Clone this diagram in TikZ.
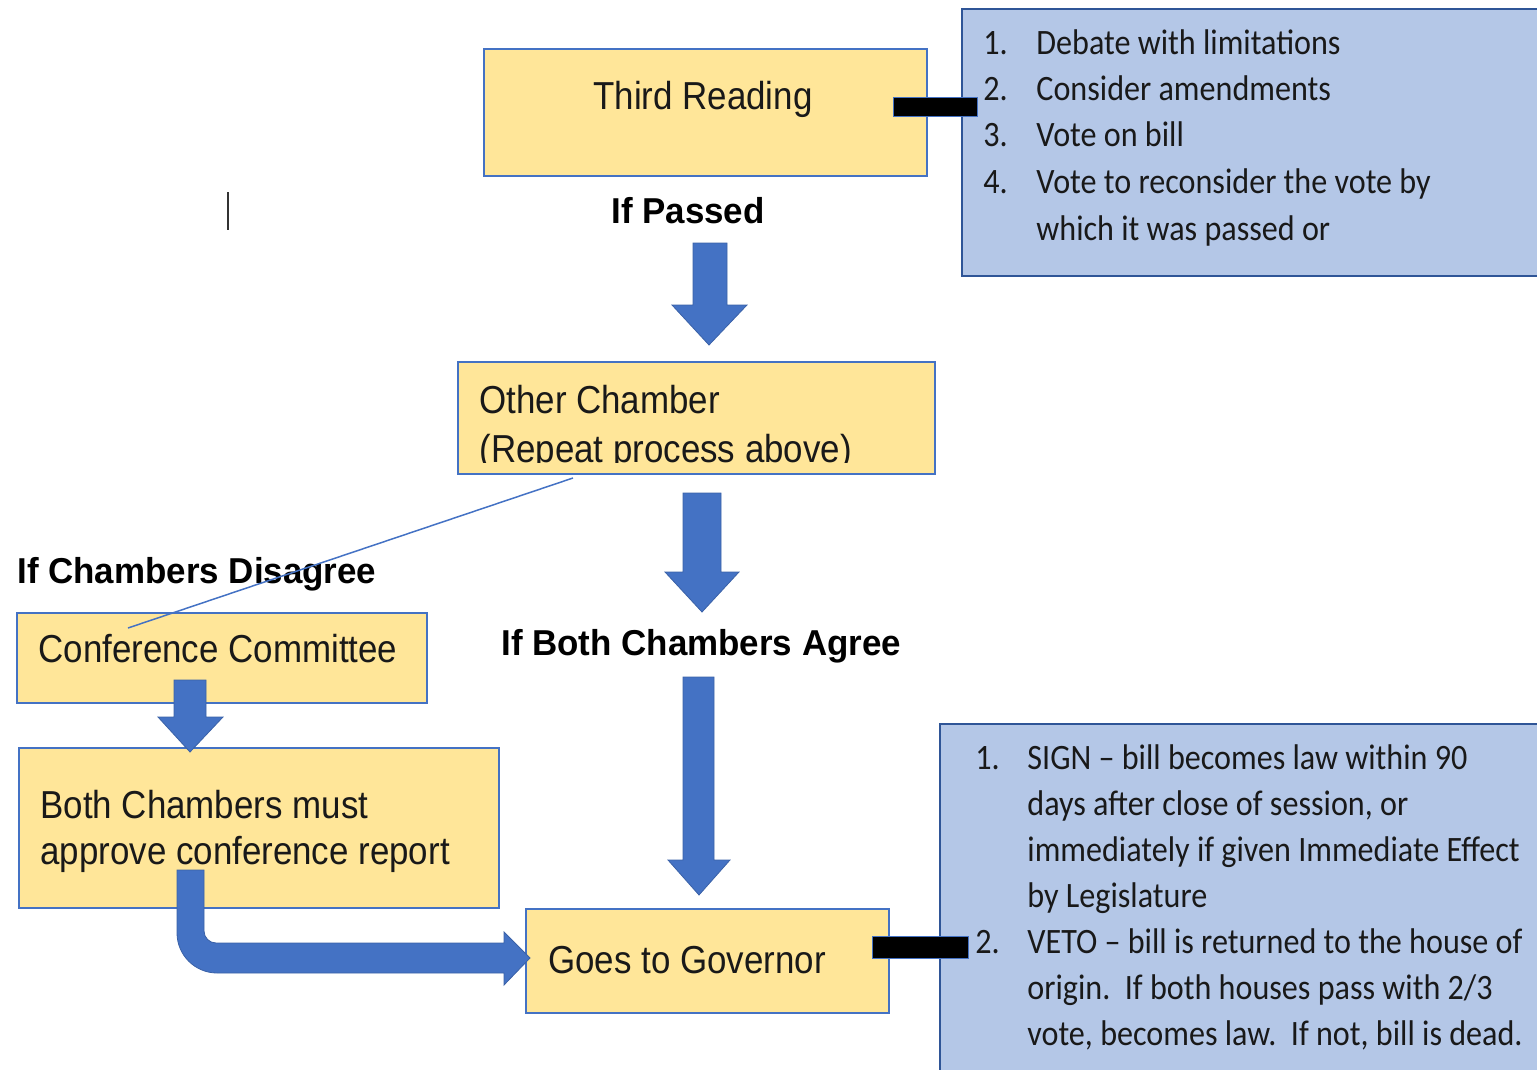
\documentclass[tikz,border=0pt]{standalone}
\usepackage{fontspec}
\setmainfont{Liberation Sans}
\newfontfamily\arialf{Liberation Sans}[FakeStretch=0.895]
\newfontfamily\arialb{Liberation Sans}[FakeStretch=0.97]
\newfontfamily\calf{Carlito}[FakeStretch=0.9]
\definecolor{yel}{HTML}{FFE699}
\definecolor{bxline}{HTML}{4472C4}
\definecolor{lblue}{HTML}{B4C7E7}
\definecolor{dblue}{HTML}{2F5597}
\definecolor{arr}{HTML}{4472C4}
\tikzset{
  ybox/.style={draw=bxline, line width=1pt, fill=yel, inner sep=0pt, anchor=north west},
  bbox/.style={draw=dblue, line width=1pt, fill=lblue, inner sep=0pt, anchor=north west},
  btxt/.style={font=\arialf\fontsize{19.5pt}{24pt}\selectfont, inner sep=0pt, anchor=base west, text=black!90},
  ltxt/.style={font=\arialb\bfseries\fontsize{18pt}{22pt}\selectfont, inner sep=0pt, anchor=base west},
  ctxt/.style={font=\calf\fontsize{17.85pt}{22pt}\selectfont, inner sep=0pt, anchor=base west, text=black!90},
  blockarrow/.style={fill=arr, draw=arr!85!black, line width=0.4pt},
  bar/.style={fill=black, draw=bxline, line width=0.5pt},
}
\begin{document}
\begin{tikzpicture}[x=0.5pt,y=-0.5pt]
\useasboundingbox (0,0) rectangle (1537,1070);
\clip (0,0) rectangle (1537,1070);

% blue info boxes
\node[bbox, minimum width=299.5pt, minimum height=133.5pt] (info1) at (961,8) {};
\node[bbox, minimum width=310.5pt, minimum height=183.5pt] (info2) at (939,723) {};

% yellow boxes
\node[ybox, minimum width=221.5pt, minimum height=63.5pt] (third) at (483,48) {};
\node[ybox, minimum width=238.5pt, minimum height=56pt] (other) at (457,361) {};
\node[ybox, minimum width=205pt, minimum height=45pt] (conf) at (16,612) {};
\node[ybox, minimum width=240pt, minimum height=80pt] (both) at (18,747) {};
\node[ybox, minimum width=181.5pt, minimum height=52pt] (gov) at (525,908) {};

% black connector bars
\draw[bar] (893,98) rectangle (977,117);
\draw[bar] (872,936) rectangle (968,958);

% texts in yellow boxes
\node[btxt, anchor=base] (thirdT) at (703,110) {Third Reading};
\node[btxt] (otherT1) at (479,413) {Other Chamber};
\begin{scope}
  \clip (458,362) rectangle (933,462);
  \node[btxt] (otherT2) at (479,462) {(Repeat process above)};
\end{scope}
\node[btxt] (confT) at (38,662) {Conference Committee};
\node[btxt] (bothT1) at (40,818) {Both Chambers must};
\node[btxt] (bothT2) at (40,864) {approve conference report};
\node[btxt] (govT) at (548,973) {Goes to Governor};

% bold labels
\node[ltxt, anchor=base] (passed) at (688,223) {If Passed};
\node[ltxt] (disagree) at (17,583) {If Chambers Disagree};
\node[ltxt] (agree) at (501,655) {If Both Chambers Agree};

% list 1
\foreach \n/\t/\y in {1./Debate with limitations/55, 2./Consider amendments/101, 3./Vote on bill/147, 4./Vote to reconsider the vote by/193}{
  \node[ctxt] (la\y) at (983,\y) {\n};
  \node[ctxt] (lb\y) at (1036,\y) {\t};
}
\node[ctxt] (lb240) at (1036,240) {which it was passed or};

% list 2
\node[ctxt] (m1n) at (975,769) {1.};
\node[ctxt] (m1) at (1027,769) {SIGN – bill becomes law within 90};
\node[ctxt] (m2) at (1027,815) {days after close of session, or};
\node[ctxt] (m3) at (1027,861) {immediately if given Immediate Effect};
\node[ctxt] (m4) at (1027,907) {by Legislature};
\node[ctxt] (m5n) at (975,953) {2.};
\node[ctxt] (m5) at (1027,953) {VETO – bill is returned to the house of};
\node[ctxt] (m6) at (1027,999) {origin.\ \ If both houses pass with 2/3};
\node[ctxt] (m7) at (1027,1045) {vote, becomes law.\ \ If not, bill is dead.};

% block arrows
\fill[blockarrow] (693,243) -- (727,243) -- (727,305) -- (747,305) -- (709,345) -- (672,305) -- (693,305) -- cycle;
\fill[blockarrow] (683,493) -- (721,493) -- (721,572) -- (739,572) -- (702,612) -- (665,572) -- (683,572) -- cycle;
\fill[blockarrow] (683,677) -- (714,677) -- (714,860) -- (730,860) -- (699,895) -- (668,860) -- (683,860) -- cycle;
\fill[blockarrow] (174,680) -- (206,680) -- (206,717) -- (223,717) -- (190,752) -- (158,717) -- (174,717) -- cycle;
% bent arrow to governor
\fill[blockarrow] (177,870) -- (177,933) .. controls (177,955) and (195,973) .. (217,973)
  -- (504,973) -- (504,985) -- (530,958) -- (504,932) -- (504,943) -- (216,943)
  .. controls (209.4,943) and (204,937.6) .. (204,931) -- (204,870) -- cycle;

% thin line
\coordinate (lnA) at (573,478);
\coordinate (lnB) at (128,628);
\draw[bxline, line width=0.75pt] (lnA) -- (lnB);

% text cursor
\coordinate (curA) at (228,192);
\coordinate (curB) at (228,230);
\draw[black!80, line width=1pt] (curA) -- (curB);
\end{tikzpicture}
\end{document}
